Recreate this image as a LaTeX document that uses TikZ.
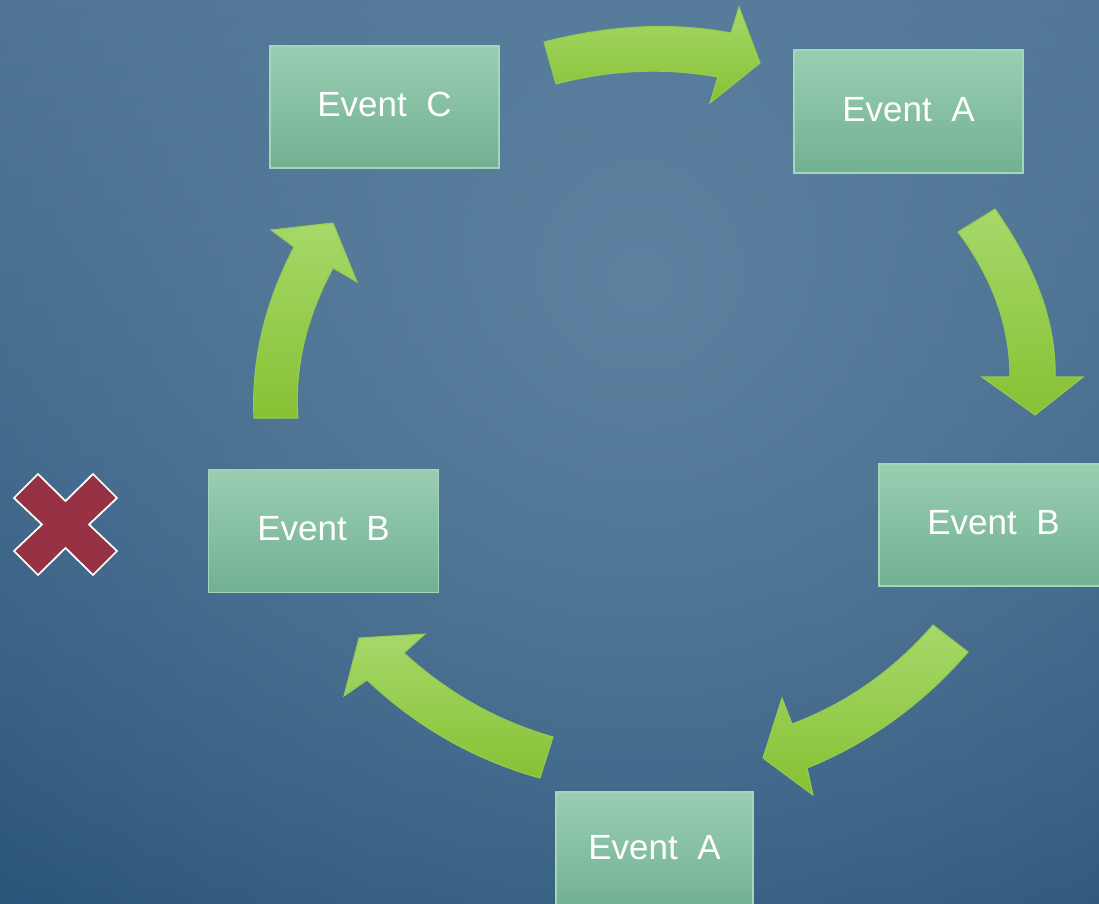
\documentclass[tikz,border=0pt]{standalone}
\usepackage{fontspec}
\setmainfont{Liberation Sans}
\usetikzlibrary{fadings}

\definecolor{bgtop}{HTML}{4B7092}
\definecolor{bgbot}{HTML}{2A5479}
\definecolor{bgglow}{HTML}{5D82A0}
\definecolor{boxtop}{HTML}{9ACEB2}
\definecolor{boxbot}{HTML}{72B093}
\definecolor{boxline}{HTML}{A2D8B7}
\definecolor{arrtop}{HTML}{A6D86A}
\definecolor{arrbot}{HTML}{87C133}
\definecolor{arrline}{HTML}{94CC4E}
\definecolor{crossred}{HTML}{963244}

% soft light spot behind the cycle
\tikzfading[name=glowfade, inner color=transparent!0, outer color=transparent!100]

\begin{document}
\begin{tikzpicture}[x=0.75pt, y=-0.75pt,
  evbox/.style={rectangle, top color=boxtop, bottom color=boxbot, draw=boxline,
    line width=0.9pt, text=white, font=\fontsize{26.25}{30}\selectfont,
    inner sep=0pt, text depth=3.8pt},
  blockarrow/.style={top color=arrtop, bottom color=arrbot, draw=arrline,
    line width=0.8pt, line join=miter},
  crossmark/.style={fill=crossred, draw=white, line width=1.3pt, line join=miter}]

\useasboundingbox (0,0) rectangle (1099,903);
\clip (0,0) rectangle (1099,903);

% background
\shade[top color=bgtop, bottom color=bgbot] (0,0) rectangle (1099,903);
\fill[bgglow, path fading=glowfade] (640,280) circle [radius=900];

% curved block arrows of the cycle
\path[blockarrow] (544,42) .. controls (609.7,25) and (672,22) .. (731,33)
  -- (739,7) -- (760,63) -- (710,103) -- (718,77)
  .. controls (664,67.3) and (610,69.7) .. (556,84) -- cycle;

\path[blockarrow] (995,209) .. controls (1036.3,267.7) and (1056.3,323.7) .. (1055,377)
  -- (1083,377) -- (1035,415) -- (982,377) -- (1010,377)
  .. controls (1010,326.7) and (992.7,278.3) .. (958,232) -- cycle;

\path[blockarrow] (933,625) -- (968,652)
  .. controls (923,704) and (869.3,742.7) .. (807,768)
  -- (813,795) -- (763,758) -- (782,698) -- (792,724)
  .. controls (846.3,703.7) and (893.3,670.7) .. (933,625) -- cycle;

\path[blockarrow] (553,737) .. controls (497.3,721) and (447.7,693) .. (404,653)
  -- (425,634) -- (359,638) -- (344,696) -- (367,680)
  .. controls (417.3,727.3) and (475,760) .. (540,778) -- cycle;

\path[blockarrow] (254,418) .. controls (251.3,360.3) and (264.7,303.3) .. (294,247)
  -- (271,230) -- (333,223) -- (357,282) -- (333,268)
  .. controls (306,318) and (294.3,368) .. (298,418) -- cycle;

% events
\node[evbox, minimum width=171.75pt, minimum height=91.5pt]  (evC)  at (384.5,107)  {Event~~C};
\node[evbox, minimum width=171.75pt, minimum height=92.25pt] (evA1) at (908.5,111.5) {Event~~A};
\node[evbox, minimum width=171.75pt, minimum height=91.5pt]  (evB1) at (993.5,525)  {Event~~B};
\node[evbox, minimum width=147.75pt, minimum height=87pt]    (evA2) at (654.5,850)  {Event~~A};
\node[evbox, minimum width=172.5pt,  minimum height=92.25pt] (evB2) at (323.5,531)  {Event~~B};

% cross mark
\path[crossmark] (65.5,501) -- (93,474) -- (117,498) -- (89,524.5) -- (117,551)
  -- (93,575) -- (65.5,548) -- (38,575) -- (14,551) -- (42,524.5)
  -- (14,498) -- (38,474) -- cycle;

\end{tikzpicture}
\end{document}
